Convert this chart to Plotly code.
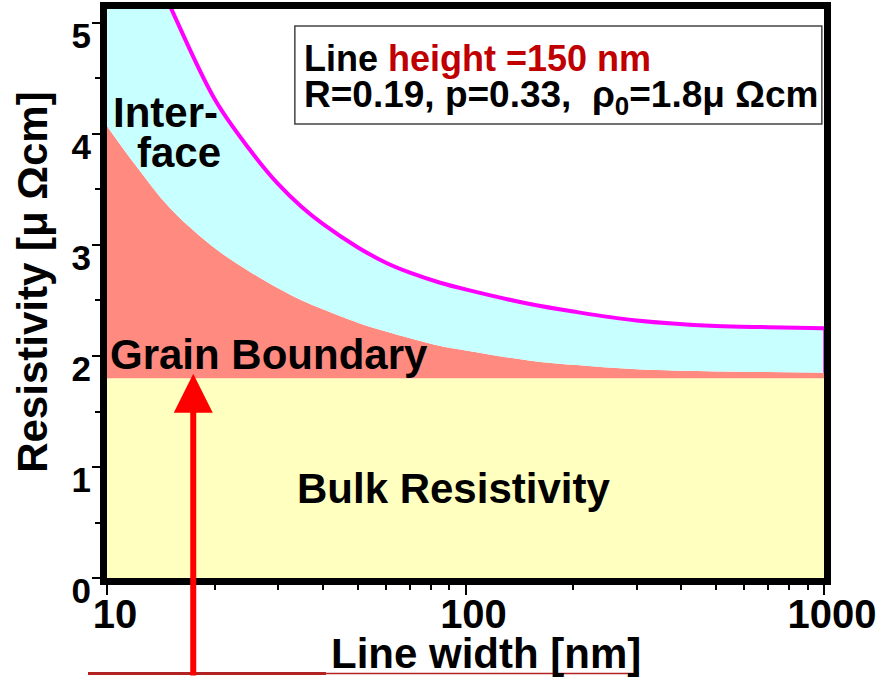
import math
import plotly.graph_objects as go

# Line width (nm) and the stacked resistivity contributions (µΩ·cm)
line_width_nm = [10, 12, 15, 20, 25, 30, 35, 40, 50, 60, 70, 85, 100,
                 150, 200, 300, 500, 700, 1000]
rho_bulk = [1.8, 1.8, 1.8, 1.8, 1.8, 1.8, 1.8, 1.8, 1.8, 1.8, 1.8, 1.8, 1.8,
            1.8, 1.8, 1.8, 1.8, 1.8, 1.8]
rho_bulk_plus_gb = [4.07, 3.72, 3.33, 2.97, 2.76, 2.61, 2.50, 2.42, 2.30, 2.22,
                    2.16, 2.09, 2.05, 1.96, 1.92, 1.88, 1.86, 1.855, 1.85]
rho_total = [6.60, 5.85, 5.15, 4.31, 3.86, 3.55, 3.34, 3.19, 2.98, 2.84,
             2.75, 2.66, 2.60, 2.47, 2.40, 2.32, 2.27, 2.26, 2.25]

x_tick_vals = [10, 100, 1000]
x_tick_text = ["10", "100", "1000"]
y_tick_vals = [0, 1, 2, 3, 4, 5]
y_tick_text = ["0", "1", "2", "3", "4", "5"]

# Width at which the arrow points to the grain-boundary onset
arrow_width_nm = 17.4
arrow_tip_rho = 1.84

FONT = "Liberation Sans, Arial, sans-serif"
YELLOW = "#ffffc0"
SALMON = "#ff8a80"
CYAN = "#c8ffff"
MAGENTA = "#ff00ff"

fig = go.Figure()

fig.add_trace(go.Scatter(
    x=line_width_nm, y=rho_bulk, mode="lines",
    line=dict(width=0, color=YELLOW), fill="tozeroy", fillcolor=YELLOW,
    hoverinfo="skip", showlegend=False))

fig.add_trace(go.Scatter(
    x=line_width_nm, y=rho_bulk_plus_gb, mode="lines",
    line=dict(width=0, color=SALMON, shape="spline", smoothing=1.0),
    fill="tonexty", fillcolor=SALMON, hoverinfo="skip", showlegend=False))

fig.add_trace(go.Scatter(
    x=line_width_nm, y=rho_total, mode="lines",
    line=dict(width=4, color=MAGENTA, shape="spline", smoothing=1.0),
    fill="tonexty", fillcolor=CYAN, hoverinfo="skip", showlegend=False))

# thin outline closing the interface band at the right edge
fig.add_trace(go.Scatter(
    x=[line_width_nm[-1], line_width_nm[-1]],
    y=[rho_bulk_plus_gb[-1], rho_total[-1]], mode="lines",
    line=dict(width=1.5, color=MAGENTA), hoverinfo="skip", showlegend=False))

big = dict(family=FONT, size=42, color="black", weight="bold")

annotations = [
    dict(text="Inter-", xref="paper", yref="paper", x=0.006, y=0.8175,
         xanchor="left", yanchor="middle", showarrow=False, font=big),
    dict(text="face", xref="paper", yref="paper", x=0.039, y=0.747,
         xanchor="left", yanchor="middle", showarrow=False, font=big),
    dict(text="Grain Boundary", xref="paper", yref="paper", x=0.002, y=0.393,
         xanchor="left", yanchor="middle", showarrow=False, font=big),
    dict(text="Bulk Resistivity", xref="paper", yref="paper", x=0.4826, y=0.157,
         xanchor="center", yanchor="middle", showarrow=False, font=big),
    dict(text='Line <span style="color:#c00000">height =150 nm</span>',
         xref="paper", yref="paper", x=0.272, y=0.9125,
         xanchor="left", yanchor="middle", showarrow=False,
         font=dict(family=FONT, size=36, color="black", weight="bold")),
    dict(text="R=0.19, p=0.33,  ρ<sub>0</sub>=1.8μ Ωcm",
         xref="paper", yref="paper", x=0.272, y=0.845,
         xanchor="left", yanchor="middle", showarrow=False,
         font=dict(family=FONT, size=37, color="black", weight="bold")),
    # axis titles
    dict(text="Line width [nm]", xref="paper", yref="paper", x=0.528, y=-0.132,
         xanchor="center", yanchor="middle", showarrow=False, font=big),
    dict(text="Resistivity [μ Ωcm]", xref="paper", yref="paper", x=-0.105, y=0.52,
         xanchor="center", yanchor="middle", textangle=-90, showarrow=False,
         font=dict(family=FONT, size=42, color="black", weight="bold")),
    dict(text="", x=math.log10(arrow_width_nm), y=arrow_tip_rho,
         xref="x", yref="y", showarrow=True, axref="pixel", ayref="pixel",
         ax=0, ay=330, arrowhead=2, arrowsize=1.3, arrowwidth=6,
         arrowcolor="#ff0000", standoff=0),
]

shapes = [
    # parameter box
    dict(type="rect", xref="paper", yref="paper", x0=0.262, x1=0.997,
         y0=0.798, y1=0.970, line=dict(color="#444444", width=1.5),
         fillcolor="rgba(255,255,255,0)"),
    # underline rule below the axis title
    dict(type="line", xref="paper", yref="paper", x0=-0.0265, x1=0.3054,
         y0=-0.168, y1=-0.168, line=dict(color="#b22222", width=3)),
    dict(type="line", xref="paper", yref="paper", x0=0.3054, x1=0.742,
         y0=-0.168, y1=-0.168, line=dict(color="#b22222", width=1.5)),
]

fig.update_layout(
    width=881, height=677,
    margin=dict(l=107, r=57, t=9, b=99, autoexpand=False),
    paper_bgcolor="white", plot_bgcolor="white",
    showlegend=False,
    annotations=annotations,
    shapes=shapes,
    xaxis=dict(
        type="log", range=[1, 3], automargin=False,
        tickvals=x_tick_vals, ticktext=x_tick_text,
        ticks="outside", ticklen=10, tickwidth=2, tickcolor="black",
        minor=dict(ticks="outside", ticklen=5, tickwidth=1.5, tickcolor="black",
                   dtick="D1", showgrid=False),
        showline=True, linewidth=7, linecolor="black", mirror=True,
        showgrid=False, zeroline=False,
        tickfont=dict(family=FONT, size=40, color="black", weight="bold"),
        ticklabelshift=8,
        ticklabelstandoff=-15,
    ),
    yaxis=dict(
        range=[0, 5.126], automargin=False,
        tickvals=y_tick_vals, ticktext=y_tick_text,
        ticks="outside", ticklen=8, tickwidth=2, tickcolor="black",
        minor=dict(ticks="outside", ticklen=5, tickwidth=2, tickcolor="black",
                   dtick=0.5, showgrid=False),
        showline=True, linewidth=7, linecolor="black", mirror=True,
        showgrid=False, zeroline=False,
        tickfont=dict(family=FONT, size=35, color="black", weight="bold"),
        ticklabelshift=13,
        ticklabelstandoff=-6,
    ),
)

fig.write_html("out.html")
